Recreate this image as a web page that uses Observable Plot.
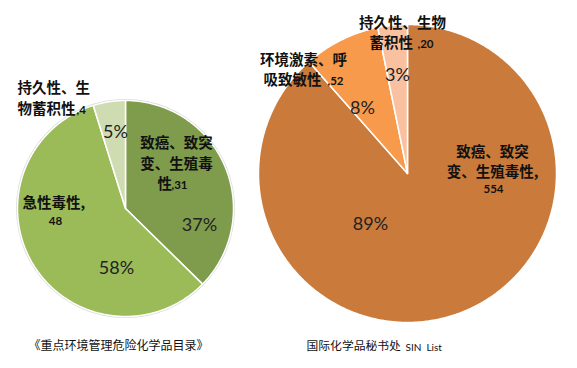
<!DOCTYPE html>
<html><head><meta charset="utf-8">
<script src="https://cdn.jsdelivr.net/npm/d3@7"></script>
<script src="https://cdn.jsdelivr.net/npm/@observablehq/plot@0.6"></script>
<style>body{margin:0;background:#fff}</style>
</head><body><div id="chart"></div>
<script>
// ---- data ----
const leftCategories = ["致癌、致突变、生殖毒性", "急性毒性", "持久性、生物蓄积性"];
const leftValues = [31, 48, 4];
const leftPercents = ["37%", "58%", "5%"];
const leftColors = ["#7f9b4c", "#9bbb59", "#cfdcb1"];
const leftTitle = "《重点环境管理危险化学品目录》";

const rightCategories = ["致癌、致突变、生殖毒性", "环境激素、呼吸致敏性", "持久性、生物蓄积性"];
const rightValues = [554, 52, 20];
const rightPercents = ["89%", "8%", "3%"];
const rightColors = ["#ca7b3b", "#f79a4b", "#f9c1a0"];
const rightTitle = "国际化学品秘书处";
const rightTitleLatin = "SIN  List";

// ---- geometry ----
function slices(values, colors, cx, cy, r, name) {
  const arcs = d3.pie().sort(null)(values);
  const pts = [];
  arcs.forEach((a, i) => {
    const key = name + i;
    pts.push({key, fill: colors[i], x: cx, y: cy});
    const n = Math.max(2, Math.ceil((a.endAngle - a.startAngle) / (Math.PI / 360)));
    for (let k = 0; k <= n; k++) {
      const t = a.startAngle + (a.endAngle - a.startAngle) * k / n;
      pts.push({key, fill: colors[i], x: cx + r * Math.sin(t), y: cy - r * Math.cos(t)});
    }
    pts.push({key, fill: colors[i], x: cx, y: cy});
  });
  return pts;
}
const L = {cx: 125, cy: 208, r: 108};
const R = {cx: 407, cy: 173, r: 149};
const pieData = [
  ...slices(leftValues, leftColors, L.cx, L.cy, L.r, "L"),
  ...slices(rightValues, rightColors, R.cx, R.cy, R.r, "R")
];

const CJK = "'Noto Sans CJK SC', 'Noto Sans', sans-serif";
const LAT = "Lato, 'Open Sans', sans-serif";

// category label lines (Chinese parts)
const cjkLabels = [
  {t: "持久性、生", x: 17, y: 88, a: "start"},
  {t: "物蓄积性", x: 17, y: 109, a: "start"},
  {t: "致癌、致突", x: 176, y: 143, a: "middle"},
  {t: "变、生殖毒", x: 176, y: 164, a: "middle"},
  {t: "性", x: 157, y: 184, a: "start"},
  {t: "急性毒性,", x: 22, y: 203, a: "start"},
  {t: "持久性、生物", x: 402, y: 23, a: "middle"},
  {t: "蓄积性", x: 369, y: 43, a: "start"},
  {t: "环境激素、呼", x: 303, y: 60, a: "middle"},
  {t: "吸致敏性", x: 263, y: 80, a: "start"},
  {t: "致癌、致突", x: 492, y: 152, a: "middle"},
  {t: "变、生殖毒性,", x: 492, y: 172, a: "middle"}
];
// numeric parts of category labels
const numLabels = [
  {t: "," + leftValues[2], x: 76, y: 110, a: "start"},
  {t: "," + leftValues[0], x: 171, y: 185, a: "start"},
  {t: String(leftValues[1]), x: 55, y: 221, a: "middle"},
  {t: "," + rightValues[2], x: 417, y: 44, a: "start"},
  {t: "," + rightValues[1], x: 327, y: 81, a: "start"},
  {t: String(rightValues[0]), x: 493, y: 189, a: "middle"}
];
const pctLabels = [
  {t: leftPercents[0], x: 199, y: 225},
  {t: leftPercents[1], x: 116, y: 268},
  {t: leftPercents[2], x: 115, y: 132},
  {t: rightPercents[0], x: 370, y: 224},
  {t: rightPercents[1], x: 362, y: 108},
  {t: rightPercents[2], x: 397, y: 75}
];

const byAnchor = (arr, a) => arr.filter(d => d.a === a);
const textMarks = (arr, opts) => ["start", "middle"].map(a =>
  Plot.text(byAnchor(arr, a), {x: "x", y: "y", text: "t", textAnchor: a, ...opts}));

const chart = Plot.plot({
  width: 577, height: 368,
  margin: 0,
  x: {domain: [0, 577], range: [0, 577], axis: null},
  y: {domain: [0, 368], range: [0, 368], axis: null},
  color: {type: "identity"},
  style: {background: "#fff"},
  marks: [
    Plot.dot([L], {x: "cx", y: "cy", r: 109.5, fill: "#d9d9d9", stroke: "none"}),
    Plot.line(pieData, {x: "x", y: "y", z: "key", fill: "fill", stroke: "white", strokeWidth: 1.5, strokeLinejoin: "round", curve: "linear"}),
    ...textMarks(cjkLabels, {fontFamily: CJK, fontWeight: 700, fontSize: 14.5, fill: "#111"}),
    ...textMarks(numLabels, {fontFamily: LAT, fontWeight: 700, fontSize: 11.5, fill: "#111"}),
    Plot.text(pctLabels, {x: "x", y: "y", text: "t", fontFamily: LAT, fontSize: 18, fill: "#222"}),
    Plot.text([leftTitle], {x: () => 118, y: () => 346, text: d => d, fontFamily: CJK, fontSize: 12, fill: "#111"}),
    Plot.text([rightTitle], {x: () => 306, y: () => 346, text: d => d, textAnchor: "start", fontFamily: CJK, fontSize: 11.8, fill: "#111"}),
    Plot.text([rightTitleLatin], {x: () => 405, y: () => 347, text: d => d, textAnchor: "start", fontFamily: LAT, fontSize: 10, fill: "#111"})
  ]
});
document.getElementById("chart").appendChild(chart);
</script>
</body></html>
